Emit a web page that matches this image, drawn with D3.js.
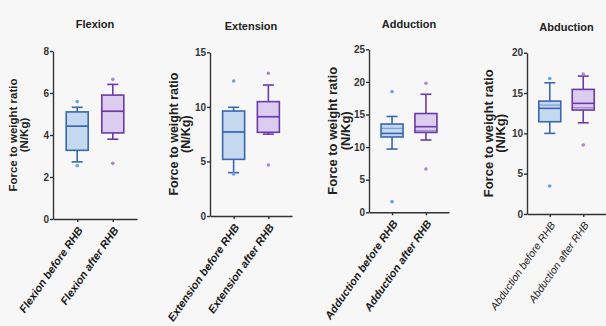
<!DOCTYPE html>
<html>
<head>
<meta charset="utf-8">
<script src="https://cdn.jsdelivr.net/npm/d3@7"></script>
<style>
  body { margin: 0; background: #f7f7f7; }
  svg { display: block; font-family: "Liberation Sans", Arial, sans-serif; }
</style>
</head>
<body>
<div class="main"></div>
<script>
// data
var panels = ["Flexion", "Extension", "Adduction", "Abduction"];
var groups = ["before RHB", "after RHB"];
var yMax = [8, 15, 25, 20];
var yStep = [2, 5, 5, 5];

// [before, after] for each panel
var whiskerLow  = [[2.72, 3.80], [3.97, 7.50], [9.70, 11.09], [10.00, 11.31]];
var q1          = [[3.27, 4.10], [5.19, 7.67], [11.55, 12.25], [11.44, 12.89]];
var median      = [[4.42, 5.13], [7.70, 9.10], [12.10, 13.13], [13.10, 13.72]];
var mean        = [[4.42, 5.13], [7.70, 9.10], [12.88, 12.50], [13.50, 13.17]];
var q3          = [[5.10, 5.90], [9.62, 10.48], [13.54, 15.15], [14.00, 15.45]];
var whiskerHigh = [[5.32, 6.41], [9.96, 12.00], [14.70, 18.10], [16.27, 17.10]];
var outliers    = [[[5.59, 2.55], [6.65, 2.65]],
                   [[12.37, 3.85], [13.08, 4.67]],
                   [[18.50, 1.63], [19.80, 6.64]],
                   [[16.80, 3.47], [17.35, 8.55]]];

// layout of each panel (pixels)
var layout = [
  {x0: 53,  x1: 137, yTop: 51,   yBot: 219,   tY: 28, lab1: -40, lab2: -29, labSize: 11.5, catSize: 11, catWeight: "bold"},
  {x0: 210, x1: 292, yTop: 52.3, yBot: 216,   tY: 30, lab1: -36, lab2: -24, labSize: 12.5, catSize: 11, catWeight: "bold"},
  {x0: 369, x1: 449, yTop: 49.3, yBot: 212.3, tY: 28, lab1: -37, lab2: -24, labSize: 13, catSize: 11, catWeight: "bold"},
  {x0: 527, x1: 606, yTop: 52.7, yBot: 214,   tY: 31, lab1: -39, lab2: -27, labSize: 13, catSize: 10.5, catWeight: "normal"}
];

var strokeCol = ["#3a67ad", "#6a3aaa"];
var fillCol   = ["#c4d8f0", "#dccdf0"];
var dotCol    = ["#6aa2de", "#ad84db"];

var svg = d3.select(".main")
  .append("svg")
  .attr("width", 606)
  .attr("height", 326);

svg.append("rect").attr("width", 606).attr("height", 326).attr("fill", "#f7f7f7");

panels.forEach(function(name, p) {
  var L = layout[p];
  var g = svg.append("g").attr("class", "panel");

  var yScale = d3.scaleLinear()
    .domain([0, yMax[p]])
    .range([L.yBot, L.yTop]);
  var xScale = d3.scalePoint()
    .domain(groups)
    .range([L.x0, L.x1])
    .padding(0.68);

  var yAxis = d3.axisLeft(yScale)
    .tickValues(d3.range(0, yMax[p] + 0.01, yStep[p]))
    .tickSize(3)
    .tickSizeOuter(0);
  var xAxis = d3.axisBottom(xScale)
    .tickSize(3)
    .tickSizeOuter(0)
    .tickFormat("");

  var ya = g.append("g")
    .attr("transform", "translate(" + L.x0 + ",0)")
    .call(yAxis);
  ya.selectAll("text")
    .style("font-size", "10px")
    .style("font-weight", "bold")
    .attr("fill", "#333")
    .attr("x", -4);

  g.append("g")
    .attr("transform", "translate(0," + L.yBot + ")")
    .call(xAxis);

  g.selectAll(".domain, .tick line")
    .attr("stroke", "#333")
    .attr("stroke-width", 1.4);

  // title
  g.append("text")
    .attr("x", (L.x0 + L.x1) / 2)
    .attr("y", L.tY)
    .attr("text-anchor", "middle")
    .style("font-size", "11px")
    .style("font-weight", "bold")
    .attr("fill", "#222")
    .text(name);

  // y label, two lines
  var yMid = (L.yTop + L.yBot) / 2;
  [["Force to weight ratio", L.lab1], ["(N/Kg)", L.lab2]].forEach(function(t) {
    g.append("text")
      .attr("transform", "translate(" + (L.x0 + t[1]) + "," + yMid + ") rotate(-90)")
      .attr("text-anchor", "middle")
      .attr("dy", "0.35em")
      .style("font-size", L.labSize + "px")
      .style("font-weight", "bold")
      .attr("fill", "#222")
      .text(t[0]);
  });

  // category labels
  groups.forEach(function(grp) {
    g.append("text")
      .attr("transform", "translate(" + (xScale(grp) + 3) + "," + (L.yBot + 9) + ") rotate(-55)")
      .attr("text-anchor", "end")
      .attr("dy", "0.35em")
      .style("font-size", L.catSize + "px")
      .style("font-weight", L.catWeight)
      .style("font-style", "italic")
      .attr("fill", "#1a1a1a")
      .text(name + " " + grp);
  });

  // boxes
  var hw = 11, cw = 5.5;
  groups.forEach(function(grp, k) {
    var cx = xScale(grp);
    var bx = g.append("g").attr("class", "box");
    bx.append("line")
      .attr("x1", cx).attr("x2", cx)
      .attr("y1", yScale(whiskerHigh[p][k])).attr("y2", yScale(q3[p][k]))
      .attr("stroke", strokeCol[k]).attr("stroke-width", 1.6);
    bx.append("line")
      .attr("x1", cx).attr("x2", cx)
      .attr("y1", yScale(q1[p][k])).attr("y2", yScale(whiskerLow[p][k]))
      .attr("stroke", strokeCol[k]).attr("stroke-width", 1.6);
    [whiskerHigh[p][k], whiskerLow[p][k]].forEach(function(v) {
      bx.append("line")
        .attr("x1", cx - cw).attr("x2", cx + cw)
        .attr("y1", yScale(v)).attr("y2", yScale(v))
        .attr("stroke", strokeCol[k]).attr("stroke-width", 1.6);
    });
    bx.append("rect")
      .attr("x", cx - hw)
      .attr("y", yScale(q3[p][k]))
      .attr("width", hw * 2)
      .attr("height", yScale(q1[p][k]) - yScale(q3[p][k]))
      .attr("fill", fillCol[k])
      .attr("stroke", strokeCol[k])
      .attr("stroke-width", 1.6);
    bx.append("line")
      .attr("x1", cx - hw).attr("x2", cx + hw)
      .attr("y1", yScale(mean[p][k])).attr("y2", yScale(mean[p][k]))
      .attr("stroke", strokeCol[k]).attr("stroke-width", 1).attr("opacity", 0.6);
    bx.append("line")
      .attr("x1", cx - hw).attr("x2", cx + hw)
      .attr("y1", yScale(median[p][k])).attr("y2", yScale(median[p][k]))
      .attr("stroke", strokeCol[k]).attr("stroke-width", 1.6);
    bx.selectAll("circle")
      .data(outliers[p][k])
      .enter()
      .append("circle")
      .attr("cx", cx)
      .attr("cy", function(d) { return yScale(d); })
      .attr("r", 1.8)
      .attr("fill", dotCol[k]);
  });
});
</script>
</body>
</html>
